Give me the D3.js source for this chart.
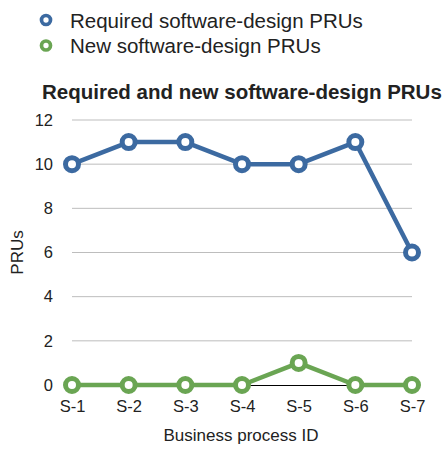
<!DOCTYPE html>
<html>
<head>
<meta charset="utf-8">
<script src="https://d3js.org/d3.v7.min.js"></script>
<style>
  body { margin: 0; background: #fff; }
  text { font-family: "Liberation Sans", Arial, Helvetica, sans-serif; fill: #222; }
</style>
</head>
<body>
<script>
// chart data
const categories = ["S-1", "S-2", "S-3", "S-4", "S-5", "S-6", "S-7"];
const requiredPRUs = [10, 11, 11, 10, 10, 11, 6];
const newPRUs = [0, 0, 0, 0, 1, 0, 0];
const seriesNames = ["Required software-design PRUs", "New software-design PRUs"];
const seriesColors = ["#3c6aa1", "#6aa553"];
const yTicks = [0, 2, 4, 6, 8, 10, 12];

const width = 446, height = 450;
const margin = { left: 72, right: 34, top: 120, bottom: 65 };

const svg = d3.select("body").append("svg")
  .attr("width", width)
  .attr("height", height);

const x = d3.scalePoint()
  .domain(categories)
  .range([margin.left, width - margin.right]);

const y = d3.scaleLinear()
  .domain([0, 12])
  .range([height - margin.bottom, margin.top]);

// legend
seriesNames.forEach((name, i) => {
  const gy = 20 + i * 25.5;
  svg.append("circle")
    .attr("cx", 46).attr("cy", gy).attr("r", 4.5)
    .attr("fill", "#fff")
    .attr("stroke", seriesColors[i])
    .attr("stroke-width", 3.7);
  svg.append("text")
    .attr("x", 70).attr("y", gy + 7.5)
    .attr("font-size", "20.5px")
    .text(name);
});

// title
svg.append("text")
  .attr("x", 42).attr("y", 99)
  .attr("font-size", "20.5px")
  .attr("font-weight", "bold")
  .text("Required and new software-design PRUs");

// gridlines
svg.append("g")
  .selectAll("line")
  .data(yTicks.filter(d => d !== 0))
  .join("line")
  .attr("x1", margin.left).attr("x2", width - margin.right)
  .attr("y1", d => y(d)).attr("y2", d => y(d))
  .attr("stroke", "#bdbdbd")
  .attr("stroke-width", 1);

// y axis labels
const yAxis = svg.append("g")
  .attr("transform", `translate(${margin.left},0)`)
  .call(d3.axisLeft(y).tickValues(yTicks).tickSize(0).tickPadding(19));
yAxis.select(".domain").remove();
yAxis.selectAll("text")
  .attr("font-size", "16.5px")
  .attr("font-family", "Liberation Sans, Arial, sans-serif")
  .attr("fill", "#222");

// x axis
const xAxis = svg.append("g")
  .attr("transform", `translate(0,${y(0)})`)
  .call(d3.axisBottom(x).tickSize(0).tickPadding(15));
xAxis.select(".domain")
  .attr("stroke", "#000")
  .attr("stroke-width", 1);
xAxis.selectAll("text")
  .attr("font-size", "16.5px")
  .attr("font-family", "Liberation Sans, Arial, sans-serif")
  .attr("fill", "#222");

// axis titles
svg.append("text")
  .attr("transform", `translate(23,${(y(0) + y(12)) / 2}) rotate(-90)`)
  .attr("text-anchor", "middle")
  .attr("font-size", "17px")
  .text("PRUs");

svg.append("text")
  .attr("x", 241)
  .attr("y", 441)
  .attr("text-anchor", "middle")
  .attr("font-size", "17px")
  .text("Business process ID");

// series
const line = d3.line()
  .x((d, i) => x(categories[i]))
  .y(d => y(d));

[requiredPRUs, newPRUs].forEach((values, s) => {
  const g = svg.append("g");
  g.append("path")
    .datum(values)
    .attr("d", line)
    .attr("fill", "none")
    .attr("stroke", seriesColors[s])
    .attr("stroke-width", 4.5)
    .attr("stroke-linejoin", "round");
  g.selectAll("circle")
    .data(values)
    .join("circle")
    .attr("cx", (d, i) => x(categories[i]))
    .attr("cy", d => y(d))
    .attr("r", 6.5)
    .attr("fill", "#fff")
    .attr("stroke", seriesColors[s])
    .attr("stroke-width", 5);
});
</script>
</body>
</html>
